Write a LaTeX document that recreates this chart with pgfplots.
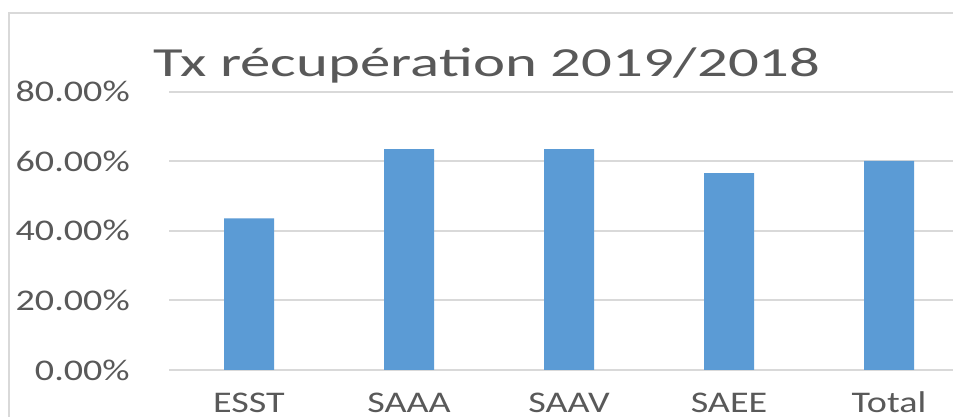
\documentclass[border=0pt]{standalone}
\usepackage{pgfplots}
\pgfplotsset{compat=1.18}
\usepackage{graphicx}
\usepackage{fontspec}
\setmainfont{Carlito}
\definecolor{barblue}{HTML}{5B9BD5}
\definecolor{gridgray}{HTML}{D9D9D9}
\definecolor{textgray}{HTML}{595959}
\begin{document}
\begin{tikzpicture}
\useasboundingbox (0pt,0pt) rectangle (714.75pt,312.75pt);
\clip (0pt,0pt) rectangle (714.75pt,312.75pt);
\fill[white] (0pt,0pt) rectangle (714.75pt,312.75pt);
% chart frame
\draw[gridgray, line width=1.5pt] (6.75pt,-4pt) -- (6.75pt,303.2pt) -- (720pt,303.2pt);
% title
\node[anchor=base west, inner sep=0pt, text=textgray] at (114.75pt,255pt)
  {\scalebox{1.47}[1]{\fontsize{31}{37}\selectfont Tx récupération 2019/2018}};
\begin{axis}[
  at={(126.75pt,35.25pt)}, anchor=south west,
  scale only axis,
  width=588pt, height=208.7pt,
  xmin=-0.5, xmax=4.4,
  ymin=0, ymax=80,
  ytick={0,20,40,60,80},
  xtick={0,1,2,3,4},
  axis line style={draw=none},
  major tick length=0pt,
  ymajorgrids,
  grid style={gridgray, line width=1.6pt},
  /pgf/number format/assume math mode=true,
  yticklabel={\scalebox{1.27}[1]{\pgfmathprintnumber[fixed,fixed zerofill,precision=2]{\tick}\%}},
  yticklabel style={anchor=east, inner sep=0pt, xshift=-29.25pt, text=textgray, font=\fontsize{22.5}{27}\selectfont},
  xticklabel style={anchor=base, inner sep=0pt, yshift=-32pt, text=textgray, font=\fontsize{22.5}{27}\selectfont},
  xticklabel={\scalebox{1.27}[1]{\pgfmathparse{int(\tick)}\ifcase\pgfmathresult ESST\or SAAA\or SAAV\or SAEE\or Total\fi}},
  clip=false,
]
\addplot[ybar, bar width=37.5pt, fill=barblue, draw=none] coordinates {
  (0,43.6) (1,63.5) (2,63.5) (3,56.6) (4,60.1)
};
\end{axis}
\end{tikzpicture}
\end{document}
